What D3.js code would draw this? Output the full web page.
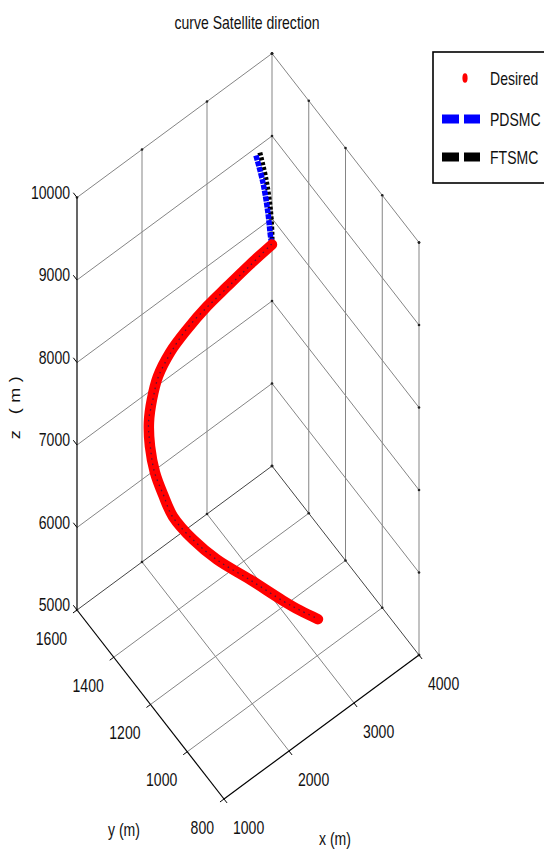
<!DOCTYPE html>
<html><head><meta charset="utf-8">
<script src="https://cdn.jsdelivr.net/npm/d3@7"></script>
<style>body{margin:0;background:#fff}svg{display:block}</style>
</head><body><svg id="c" width="544" height="850"></svg>
<script>
// ---- data ----
const xTicks = [1000, 2000, 3000, 4000];
const yTicks = [800, 1000, 1200, 1400, 1600];
const zTicks = [5000, 6000, 7000, 8000, 9000, 10000];
const titleText = "curve Satellite direction";
const seriesNames = ["Desired", "PDSMC", "FTSMC"];

const desiredX = [3400,3200,2950,2700,2450,2200,1980,1800,1660,1580,1560,1600,1700,1900,2150,2500,2850,3050,3285];
const desiredY = [1388,1437,1473,1494,1514,1518,1506,1475,1442,1408,1374,1344,1325,1287,1245,1189,1133,1112,1097];
const desiredZ = [8640,8375,8149,7994,7803,7659,7531,7446,7343,7195,6989,6783,6513,6226,5959,5673,5374,5199,5000];

const pdsmcX = [3400,3400,3400,3400,3400,3205,2950,2700,2455,2200,1980,1795,1660,1580,1560,1600,1705,1900,2150,2500,2850,3050,3285];
const pdsmcY = [1475,1437,1410,1393,1385,1440,1478,1498,1512,1522,1508,1478,1440,1410,1370,1348,1322,1290,1248,1192,1136,1110,1095];
const pdsmcZ = [9470,9252,8966,8685,8640,8375,8149,7994,7803,7659,7531,7446,7343,7195,6989,6783,6513,6226,5959,5673,5374,5199,5000];

const ftsmcX = [3460,3450,3440,3415,3400,3195,2950,2700,2445,2200,1980,1805,1660,1580,1560,1600,1695,1900,2150,2500,2850,3050,3285];
const ftsmcY = [1475,1437,1410,1393,1390,1434,1470,1492,1516,1515,1504,1472,1444,1406,1377,1341,1328,1284,1242,1186,1130,1114,1099];
const ftsmcZ = [9470,9252,8966,8685,8640,8375,8149,7994,7803,7659,7531,7446,7343,7195,6989,6783,6513,6226,5959,5673,5374,5199,5000];

// ---- projection (oblique 3D view built from linear scales) ----
const O = [224, 799];
const EX = [195, -144], EY = [-147, -189], EZ = [0, -412.5];
const xs = d3.scaleLinear().domain([1000, 4000]).range([0, 1]);
const ys = d3.scaleLinear().domain([800, 1600]).range([0, 1]);
const zs = d3.scaleLinear().domain([5000, 10000]).range([0, 1]);
function P(x, y, z) {
  const a = xs(x), b = ys(y), c = zs(z);
  return [O[0] + a*EX[0] + b*EY[0] + c*EZ[0], O[1] + a*EX[1] + b*EY[1] + c*EZ[1]];
}
const xMin = 1000, xMax = 4000, yMin = 800, yMax = 1600, zMin = 5000, zMax = 10000;

const svg = d3.select("#c");
const FONT = "'Liberation Sans', Arial, sans-serif";
const SX = 0.78, FS = 18;

const gGrid = svg.append("g");
function seg(p, q, color, w) {
  gGrid.append("line").attr("x1", p[0]).attr("y1", p[1]).attr("x2", q[0]).attr("y2", q[1])
    .attr("stroke", color).attr("stroke-width", w);
}
const gridC = "#858585";
// floor z = zMin
xTicks.forEach(x => { if (x !== xMin) seg(P(x, yMin, zMin), P(x, yMax, zMin), x === xMax ? "#444" : gridC, 1); });
yTicks.forEach(y => { if (y !== yMin) seg(P(xMin, y, zMin), P(xMax, y, zMin), y === yMax ? "#444" : gridC, 1); });
// back-left wall y = yMax
xTicks.forEach(x => { if (x !== xMin) seg(P(x, yMax, zMin), P(x, yMax, zMax), gridC, 1); });
zTicks.forEach(z => { if (z !== zMin) seg(P(xMin, yMax, z), P(xMax, yMax, z), gridC, 1); });
// back-right wall x = xMax
yTicks.forEach(y => { if (y !== yMax) seg(P(xMax, y, zMin), P(xMax, y, zMax), gridC, 1); });
zTicks.forEach(z => { if (z !== zMin) seg(P(xMax, yMin, z), P(xMax, yMax, z), gridC, 1); });

// main axes
seg(P(xMin, yMax, zMin), P(xMin, yMax, zMax), "#000", 1.2); // z axis
seg(P(xMin, yMin, zMin), P(xMin, yMax, zMin), "#000", 1.2); // y axis
seg(P(xMin, yMin, zMin), P(xMax, yMin, zMin), "#000", 1.2); // x axis

// small tick marks on box edges
const dots = [];
xTicks.forEach(x => { dots.push(P(x, yMax, zMax)); dots.push(P(x, yMax, zMin)); });
yTicks.forEach(y => { dots.push(P(xMax, y, zMax)); dots.push(P(xMax, y, zMin)); });
zTicks.forEach(z => { dots.push(P(xMax, yMax, z)); dots.push(P(xMax, yMin, z)); });
gGrid.selectAll("circle.tk").data(dots).join("circle").attr("class", "tk")
  .attr("cx", d => d[0]).attr("cy", d => d[1]).attr("r", 1.3).attr("fill", "#222");

// axis ticks
function unit(v) { const n = Math.hypot(v[0], v[1]); return [v[0]/n, v[1]/n]; }
const uy = unit(EY), ux = unit(EX);
zTicks.forEach(z => { const p = P(xMin, yMax, z); seg(p, [p[0] + uy[0]*6, p[1] + uy[1]*6], "#000", 1); });
yTicks.forEach(y => { const p = P(xMin, y, zMin); seg(p, [p[0] - ux[0]*5, p[1] - ux[1]*5], "#000", 1); });
xTicks.forEach(x => { const p = P(x, yMin, zMin); seg(p, [p[0] - uy[0]*5, p[1] - uy[1]*5], "#000", 1); });

// text helper (horizontally condensed like the original)
function txt(x, y, s, anchor, extra) {
  const t = svg.append("text").attr("transform", `translate(${x},${y}) scale(${SX},1)` + (extra || ""))
    .attr("text-anchor", anchor).attr("font-family", FONT).attr("font-size", FS).attr("fill", "#111").text(s);
  return t;
}
zTicks.forEach(z => { const p = P(xMin, yMax, z); txt(70, p[1] + 1, String(z), "end"); });
yTicks.forEach(y => { const p = P(xMin, y, zMin); txt(p[0] - 10, p[1] + 34.5, String(y), "end"); });
xTicks.forEach(x => { const p = P(x, yMin, zMin); txt(p[0] + 9, p[1] + 34.5, String(x), "start"); });

txt(247, 29, titleText, "middle");
txt(124, 836, "y (m)", "middle");
txt(335, 845, "x (m)", "middle");
txt(20, 405, "z (m)", "middle", " rotate(-90)").attr("letter-spacing", 5.5);

// ---- series ----
const line = d3.line().curve(d3.curveCatmullRom.alpha(0.5));
const pts = (X, Y, Z) => X.map((x, i) => P(x, Y[i], Z[i]));
const gS = svg.append("g");
gS.append("path").attr("d", line(pts(ftsmcX, ftsmcY, ftsmcZ))).attr("fill", "none")
  .attr("stroke", "#000").attr("stroke-width", 5).attr("stroke-dasharray", "3,2");
gS.append("path").attr("d", line(pts(pdsmcX, pdsmcY, pdsmcZ))).attr("fill", "none")
  .attr("stroke", "#0000ff").attr("stroke-width", 5.5).attr("stroke-dasharray", "5,1");
gS.append("path").attr("d", line(pts(desiredX, desiredY, desiredZ))).attr("fill", "none")
  .attr("stroke", "#ff0000").attr("stroke-width", 10.5).attr("stroke-linecap", "round").attr("stroke-linejoin", "round");
gS.append("path").attr("d", line(pts(ftsmcX, ftsmcY, ftsmcZ).slice(4))).attr("fill", "none")
  .attr("stroke", "#1a1a50").attr("stroke-width", 1.3).attr("stroke-dasharray", "1.5,4").attr("opacity", 0.75);

// ---- legend ----
const L = svg.append("g");
L.append("rect").attr("x", 433).attr("y", 52).attr("width", 130).attr("height", 131)
  .attr("fill", "#fff").attr("stroke", "#000").attr("stroke-width", 1.6);
const rows = [78, 119, 157];
L.append("ellipse").attr("cx", 465).attr("cy", rows[0]).attr("rx", 2.6).attr("ry", 4.8).attr("fill", "#ff0000");
[["#0000ff", rows[1]], ["#000", rows[2]]].forEach(([c, y]) => {
  L.append("line").attr("x1", 442).attr("x2", 480).attr("y1", y).attr("y2", y)
    .attr("stroke", c).attr("stroke-width", 9).attr("stroke-dasharray", "17,5");
});
seriesNames.forEach((n, i) => {
  L.append("text").attr("transform", `translate(490,${rows[i] + 6.5}) scale(${SX},1)`)
    .attr("font-family", FONT).attr("font-size", FS).attr("fill", "#111").text(n);
});
</script></body></html>
